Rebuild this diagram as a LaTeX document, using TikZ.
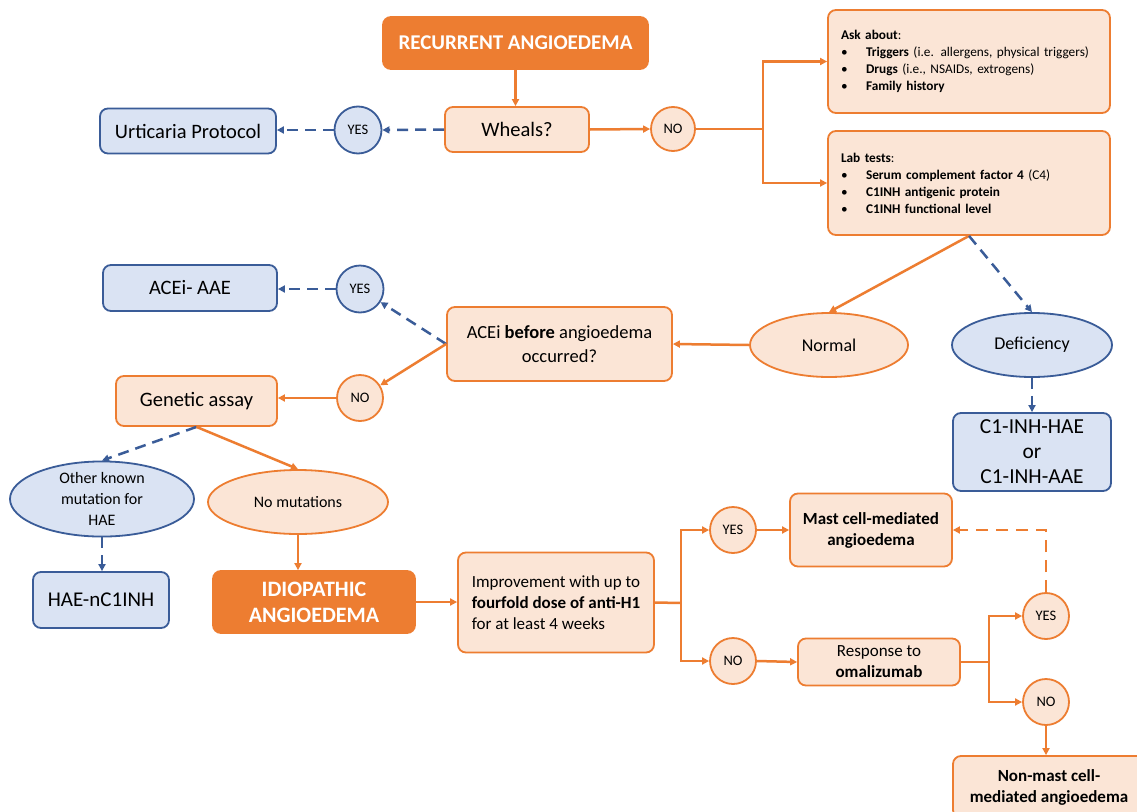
\documentclass[tikz,border=0pt]{standalone}
\usepackage{fontspec}
\setmainfont{Carlito}
\usetikzlibrary{arrows.meta,shapes.geometric,calc}
\definecolor{ofill}{HTML}{FBE5D6}
\definecolor{oline}{HTML}{ED7D31}
\definecolor{bfill}{HTML}{DAE3F3}
\definecolor{bline}{HTML}{3A5C98}
\newcommand{\fs}[2]{\fontsize{#1}{#2}\selectfont}
\newcommand{\bul}{\makebox[25pt][l]{\textbullet}}
\tikzset{
  base/.style={line width=1.8pt, rounded corners=8pt, align=center, inner sep=0pt},
  obox/.style={base, draw=oline, fill=ofill},
  bbox/.style={base, draw=bline, fill=bfill},
  dbox/.style={base, draw=oline, fill=oline, text=white, font=\bfseries},
  ocirc/.style={circle, draw=oline, fill=ofill, line width=1.8pt, minimum size=46pt, inner sep=0pt, font=\fs{14.5}{16}},
  bcirc/.style={circle, draw=bline, fill=bfill, line width=1.8pt, minimum size=46pt, inner sep=0pt, font=\fs{14.5}{16}},
  oell/.style={ellipse, draw=oline, fill=ofill, line width=1.8pt, inner sep=0pt, align=center},
  bell/.style={ellipse, draw=bline, fill=bfill, line width=1.8pt, inner sep=0pt, align=center},
  tip/.style={-{Triangle[length=7pt,width=7pt]}},
  oln/.style={draw=oline, line width=2.5pt},
  oarr/.style={oln, tip},
  barr/.style={draw=bline, line width=2.5pt, dash pattern=on 11pt off 7pt, tip},
  bigtxt/.style={font=\fs{20.5}{25}},
  midtxt/.style={font=\fs{17}{21}},
  listbox/.style={obox, align=left, text width=256pt, inner xsep=13pt, inner ysep=0pt, font=\fs{13.3}{17}},
}
\begin{document}
\begin{tikzpicture}[x=1pt,y=-1pt]
\useasboundingbox (0,0) rectangle (1137,811);
\fill[white] (0,0) rectangle (1137,811);

% nodes
\node[dbox, minimum width=265pt, minimum height=52pt, font=\fs{21}{25}\bfseries] (rec) at (515.5,43) {RECURRENT ANGIOEDEMA};
\node[obox, bigtxt, minimum width=144pt, minimum height=45pt] (wheals) at (517,129.5) {Wheals?};
\node[bcirc, minimum size=47pt] (yes1) at (358,130) {YES};
\node[bbox, bigtxt, minimum width=176pt, minimum height=45pt] (urt) at (188,131) {Urticaria Protocol};
\node[ocirc, minimum size=44pt] (no1) at (673,129) {NO};

\node[listbox, minimum height=103pt] (ask) at (969,61.5)
 {\textbf{Ask about}:\\
  \bul\textbf{Triggers} (i.e. allergens, physical triggers)\\
  \bul\textbf{Drugs} (i.e., NSAIDs, extrogens)\\
  \bul\textbf{Family history}};
\node[listbox, minimum height=104pt] (lab) at (969,183)
 {\textbf{Lab tests}:\\
  \bul\textbf{Serum complement factor 4} (C4)\\
  \bul\textbf{C1INH antigenic protein}\\
  \bul\textbf{C1INH functional level}};

\node[bbox, bigtxt, minimum width=174pt, minimum height=46pt] (aaae) at (190,288) {ACEi- AAE};
\node[bcirc, minimum size=47pt] (yes2) at (360,289) {YES};
\node[obox, font=\fs{18.5}{24}, minimum width=225pt, minimum height=74pt] (acei) at (559.5,344) {ACEi \textbf{before} angioedema\\occurred?};
\node[oell, font=\fs{18}{22}, minimum width=158pt, minimum height=64pt] (normal) at (829,345) {Normal};
\node[bell, font=\fs{18}{22}, minimum width=160pt, minimum height=64pt] (defi) at (1032,345) {Deficiency};
\node[bbox, font=\fs{21.4}{25}, minimum width=158pt, minimum height=78pt] (c1) at (1032,452) {C1-INH-HAE\\or\\C1-INH-AAE};
\node[ocirc] (no2) at (360,398) {NO};
\node[obox, bigtxt, minimum width=161pt, minimum height=50pt] (gen) at (196.5,401) {Genetic assay};

\node[bell, font=\fs{16}{21}, minimum width=184pt, minimum height=68pt] (other) at (102,499) {Other known\\mutation for\\HAE};
\node[oell, font=\fs{16}{20}, minimum width=180pt, minimum height=64pt] (nomut) at (298,502) {No mutations};
\node[bbox, font=\fs{21}{25}, minimum width=136pt, minimum height=56pt] (hae) at (101,600) {HAE-nC1INH};
\node[dbox, font=\fs{22}{26}\bfseries, minimum width=202pt, minimum height=62pt] (idio) at (314,602) {IDIOPATHIC\\ANGIOEDEMA};
\node[obox, midtxt, align=left, minimum width=196pt, minimum height=100pt] (impr) at (556,602.5)
 {Improvement with up to\\\textbf{fourfold dose of anti-H1}\\for at least 4 weeks};

\node[ocirc] (yes3) at (733,530) {YES};
\node[obox, font=\fs{17}{21}\bfseries, minimum width=162pt, minimum height=73pt] (mast) at (871,530) {Mast cell-mediated\\angioedema};
\node[ocirc] (no3) at (733,661) {NO};
\node[obox, midtxt, minimum width=162pt, minimum height=47pt] (resp) at (879,662) {Response to\\\textbf{omalizumab}};
\node[ocirc] (yes4) at (1046,616) {YES};
\node[ocirc] (no4) at (1046,702) {NO};
\node[obox, font=\fs{17}{21}\bfseries, minimum width=192pt, minimum height=62pt] (nonmast) at (1049,787) {Non-mast cell-\\mediated angioedema};

% connectors
\draw[oarr] (rec.south) -- (rec.south |- wheals.north);
\draw[barr] (wheals.west) -- (yes1.east);
\draw[barr] (yes1.west) -- (yes1.west -| urt.east);
\draw[oarr] (wheals.east) -- (no1.west);
\coordinate (br1) at (763,129);
\draw[oln] (no1.east) -- (br1);
\draw[oarr] (br1) |- (ask.west);
\draw[oarr] (br1) |- (lab.west);

\draw[oarr] (lab.south) -- (normal.north);
\draw[barr] (lab.south) -- (defi.north);
\draw[oarr] (normal.west) -- (acei.east);
\draw[barr] (defi.south) -- (c1.north);

\draw[barr] (acei.west) -- (yes2);
\draw[oarr] (acei.west) -- (no2);
\draw[barr] (yes2.west) -- (yes2.west -| aaae.east);
\draw[oarr] (no2.west) -- (no2.west -| gen.east);

\draw[barr] (gen.south) -- (other.north);
\draw[oarr] (gen.south) -- (nomut.north);
\draw[barr] (other.south) -- (other.south |- hae.north);
\draw[oarr] (nomut.south) -- (nomut.south |- idio.north);
\draw[oarr] (idio.east) -- (idio.east -| impr.west);

\coordinate (br2) at (681,603);
\draw[oln] (impr.east) -- (br2);
\draw[oarr] (br2) |- (yes3.west);
\draw[oarr] (br2) |- (no3.west);
\draw[oarr] (yes3.east) -- (mast.west);
\draw[oarr] (no3.east) -- (resp.west);

\coordinate (br3) at (989,662);
\draw[oln] (resp.east) -- (br3);
\draw[oarr] (br3) |- (yes4.west);
\draw[oarr] (br3) |- (no4.west);
\draw[oarr, dash pattern=on 12pt off 8pt] (yes4.north) |- (mast.east);
\draw[oarr] (no4.south) -- (no4.south |- nonmast.north);
\end{tikzpicture}
\end{document}
